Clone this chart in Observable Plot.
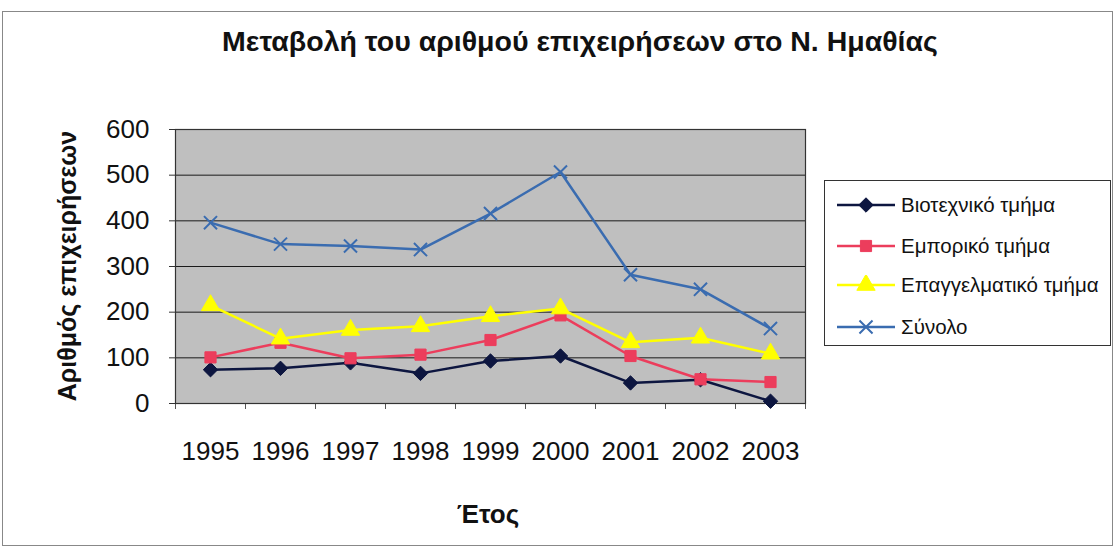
<!DOCTYPE html>
<html>
<head>
<meta charset="utf-8">
<script src="https://cdn.jsdelivr.net/npm/d3@7"></script>
<script src="https://cdn.jsdelivr.net/npm/@observablehq/plot@0.6"></script>
<style>
  html, body { margin: 0; padding: 0; background: #fff; }
  #wrap { position: relative; width: 1117px; height: 551px; overflow: hidden; font-family: "Liberation Sans", Arial, sans-serif; }
  #border { position: absolute; left: 2px; top: 11px; width: 1111px; height: 535px; border: 1px solid #888; box-sizing: border-box; }
  #title { position: absolute; left: 0; width: 1160px; top: 25px; text-align: center; font-weight: bold; font-size: 28.5px; color: #111; }
  #ytitle { position: absolute; left: 67px; top: 266px; transform: translate(-50%, -50%) rotate(-90deg); white-space: nowrap; font-weight: bold; font-size: 25px; color: #111; }
  #xtitle { position: absolute; left: 488px; top: 514px; transform: translate(-50%, -50%); font-weight: bold; font-size: 26px; color: #111; }
  #legend { position: absolute; left: 824px; top: 180px; width: 287px; height: 166px; border: 1px solid #333; box-sizing: border-box; background: #fff; }
  .item { position: absolute; left: 10px; height: 24px; display: flex; align-items: center; font-size: 20.5px; color: #111; white-space: nowrap; }
  .item svg { margin-right: 4px; }
  #chart { position: absolute; left: 0; top: 0; }
</style>
</head>
<body>
<div id="wrap">
  <div id="border"></div>
  <div id="chart"></div>
  <div id="title">Μεταβολή του αριθμού επιχειρήσεων στο Ν. Ημαθίας</div>
  <div id="ytitle">Αριθμός επιχειρήσεων</div>
  <div id="xtitle">Έτος</div>
  <div id="legend"></div>
</div>
<script>
const years = [1995, 1996, 1997, 1998, 1999, 2000, 2001, 2002, 2003];
const biotechniko = [74, 77, 89, 66, 93, 104, 45, 52, 5];
const emporiko = [101, 133, 99, 107, 139, 193, 104, 53, 47];
const epaggelmatiko = [215, 142, 161, 169, 191, 208, 134, 144, 109];
const synolo = [396, 349, 345, 337, 416, 507, 282, 250, 164];
const seriesNames = ["Βιοτεχνικό τμήμα", "Εμπορικό τμήμα", "Επαγγελματικό τμήμα", "Σύνολο"];
const yTicks = [0, 100, 200, 300, 400, 500, 600];

const seriesValues = [biotechniko, emporiko, epaggelmatiko, synolo];
const colors = ["#0d1640", "#ec3d5c", "#ffff00", "#3a6cb0"];
const symbols = ["diamond2", "square", "triangle", "times"];
const sizes = [6.5, 6.3, 6.8, 6];

const data = [];
seriesNames.forEach((name, i) => {
  years.forEach((yr, j) => data.push({series: name, year: yr, value: seriesValues[i][j], idx: i}));
});

const boundaries = years.map(y => y - 0.5).concat([years[years.length - 1] + 0.5]);

const marks = [
  Plot.frame({fill: "#bfbfbf"}),
  Plot.gridY({ticks: yTicks, stroke: "#1a1a1a", strokeOpacity: 1, strokeWidth: 1}),
  Plot.axisY({ticks: yTicks, tickSize: 6, tickPadding: 20, fontSize: 26, label: null, stroke: "#333"}),
  Plot.axisX({ticks: years, tickSize: 0, tickPadding: 38, tickFormat: d => String(d), fontSize: 26, label: null}),
  Plot.axisX({ticks: boundaries, tickSize: 6, tickFormat: () => "", label: null, stroke: "#555"}),
  Plot.frame({stroke: "#333", strokeWidth: 1.2})
];
seriesNames.forEach((name, i) => {
  const d = data.filter(r => r.idx === i);
  marks.push(Plot.line(d, {x: "year", y: "value", stroke: colors[i], strokeWidth: 2.5}));
  if (symbols[i] === "times") {
    marks.push(Plot.dot(d, {x: "year", y: "value", symbol: "times", r: sizes[i], stroke: colors[i], strokeWidth: 2}));
  } else {
    marks.push(Plot.dot(d, {x: "year", y: "value", symbol: symbols[i], r: sizes[i], fill: colors[i], stroke: colors[i], strokeWidth: 1}));
  }
});

const chart = Plot.plot({
  width: 1117,
  height: 551,
  marginLeft: 175,
  marginRight: 312,
  marginTop: 129,
  marginBottom: 148,
  style: {fontFamily: "Liberation Sans, Arial, sans-serif", color: "#111", background: "transparent"},
  x: {type: "linear", domain: [1994.5, 2003.5], axis: null},
  y: {type: "linear", domain: [0, 600], axis: null},
  marks
});
document.getElementById("chart").appendChild(chart);

// legend
const legend = d3.select("#legend");
const tops = [12, 53, 92, 134];
const symMap = {diamond2: d3.symbolDiamond2 || d3.symbolDiamond, square: d3.symbolSquare, triangle: d3.symbolTriangle, times: d3.symbolTimes || d3.symbolCross};
seriesNames.forEach((name, i) => {
  const item = legend.append("div").attr("class", "item").style("top", tops[i] + "px");
  const svg = item.append("svg").attr("width", 62).attr("height", 20);
  svg.append("line").attr("x1", 2).attr("x2", 60).attr("y1", 10).attr("y2", 10)
    .attr("stroke", colors[i]).attr("stroke-width", 2.5);
  const path = d3.symbol(symMap[symbols[i]], Math.PI * sizes[i] * sizes[i])();
  const p = svg.append("path").attr("d", path).attr("transform", "translate(31,10)");
  if (symbols[i] === "times") p.attr("fill", "none").attr("stroke", colors[i]).attr("stroke-width", 2);
  else p.attr("fill", colors[i]).attr("stroke", colors[i]);
  item.append("span").text(name);
});
</script>
</body>
</html>
